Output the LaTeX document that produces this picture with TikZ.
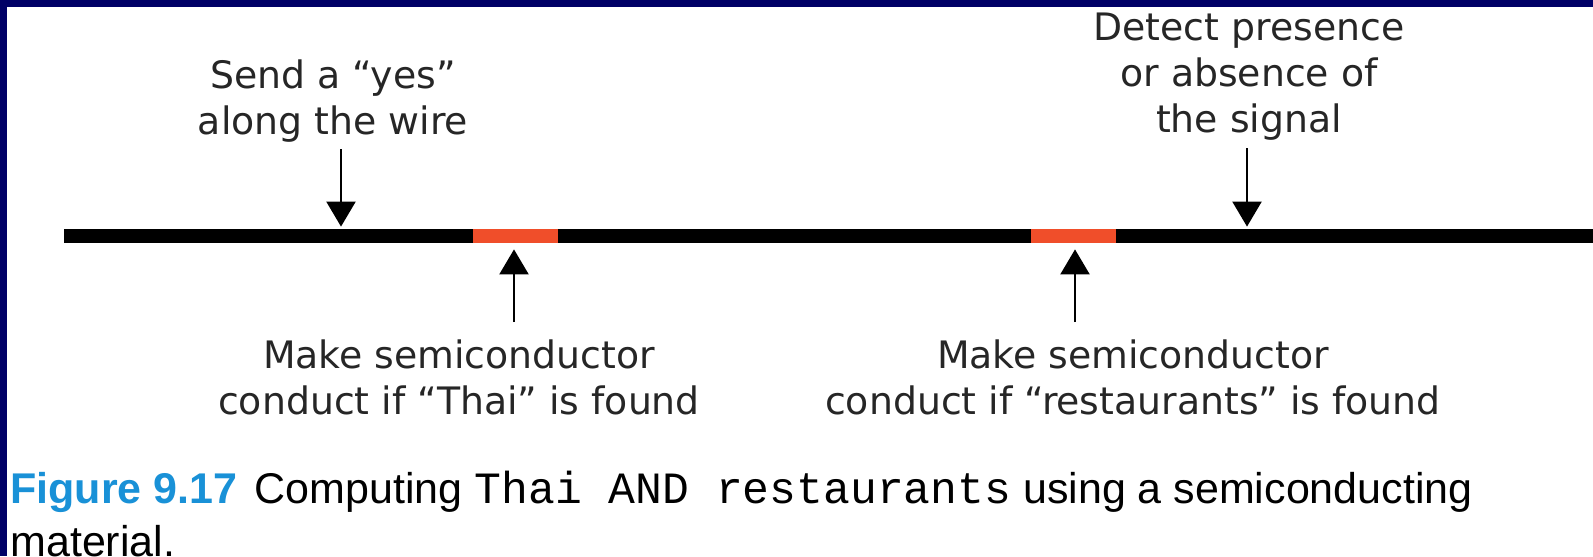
\documentclass[tikz,border=0pt]{standalone}
\usepackage{fontspec}
\setmainfont{Liberation Sans}
\setmonofont{Liberation Mono}[Scale=1.04]
\newfontfamily\labelfont{DejaVu Sans}
\usetikzlibrary{arrows.meta}
\definecolor{navyFrame}{RGB}{0,0,102}
\definecolor{semiRed}{RGB}{240,78,42}
\definecolor{figBlue}{RGB}{25,145,215}
\tikzset{wireBox/.style={fill=black, inner sep=0pt, minimum height=7pt}}
\tikzset{semiBox/.style={fill=semiRed, inner sep=0pt, minimum height=7pt, minimum width=42.5pt}}
\tikzset{labelText/.style={align=center, inner sep=0pt, anchor=north, text=black!85, font=\labelfont\fontsize{18.9pt}{23pt}\selectfont}}
\tikzset{pointer/.style={-{Triangle[length=12.5pt, width=14.5pt]}, line width=1.1pt}}
\tikzset{captionText/.style={anchor=base west, inner sep=0pt, font=\fontsize{21.5pt}{25pt}\selectfont}}

\begin{document}
\begin{tikzpicture}[x=0.5pt, y=-0.5pt]

\fill[white] (0,0) rectangle (1593,556);
\useasboundingbox (0,0) rectangle (1593,556);
\fill[navyFrame] (0,0) rectangle (1593,7);
\fill[navyFrame] (0,0) rectangle (7,556);

\node[wireBox, minimum width=764.5pt] (wire) at (828.5,236) {};
\node[semiBox] (thai) at (515.5,236) {};
\node[semiBox] (rest) at (1073,236) {};

\node[labelText] (send) at (333,59) {Send a “yes”\\along the wire};
\node[labelText] (detect) at (1249,13) {Detect presence\\or absence of\\the signal};
\node[labelText] (makeThai) at (459,339) {Make semiconductor\\conduct if “Thai” is found};
\node[labelText] (makeRest) at (1133,339) {Make semiconductor\\conduct if “restaurants” is found};

\coordinate (sendTail) at (341,149);
\coordinate (detectTail) at (1247,148);
\coordinate (thaiTail) at (514,322);
\coordinate (restTail) at (1075,322);

\draw[pointer, shorten >=1pt] (sendTail) -- (sendTail |- wire.north);
\draw[pointer, shorten >=1pt] (detectTail) -- (detectTail |- wire.north);
\draw[pointer, shorten >=3pt] (thaiTail) -- (thaiTail |- thai.south);
\draw[pointer, shorten >=3pt] (restTail) -- (restTail |- rest.south);

\node[captionText] (caption) at (10,503) {{\color{figBlue}\bfseries Figure 9.17}\hspace{0.4em}Computing \texttt{Thai AND restaurants} using a semiconducting};
\node[captionText] (captionEnd) at (10,556) {material.};

\end{tikzpicture}
\end{document}
